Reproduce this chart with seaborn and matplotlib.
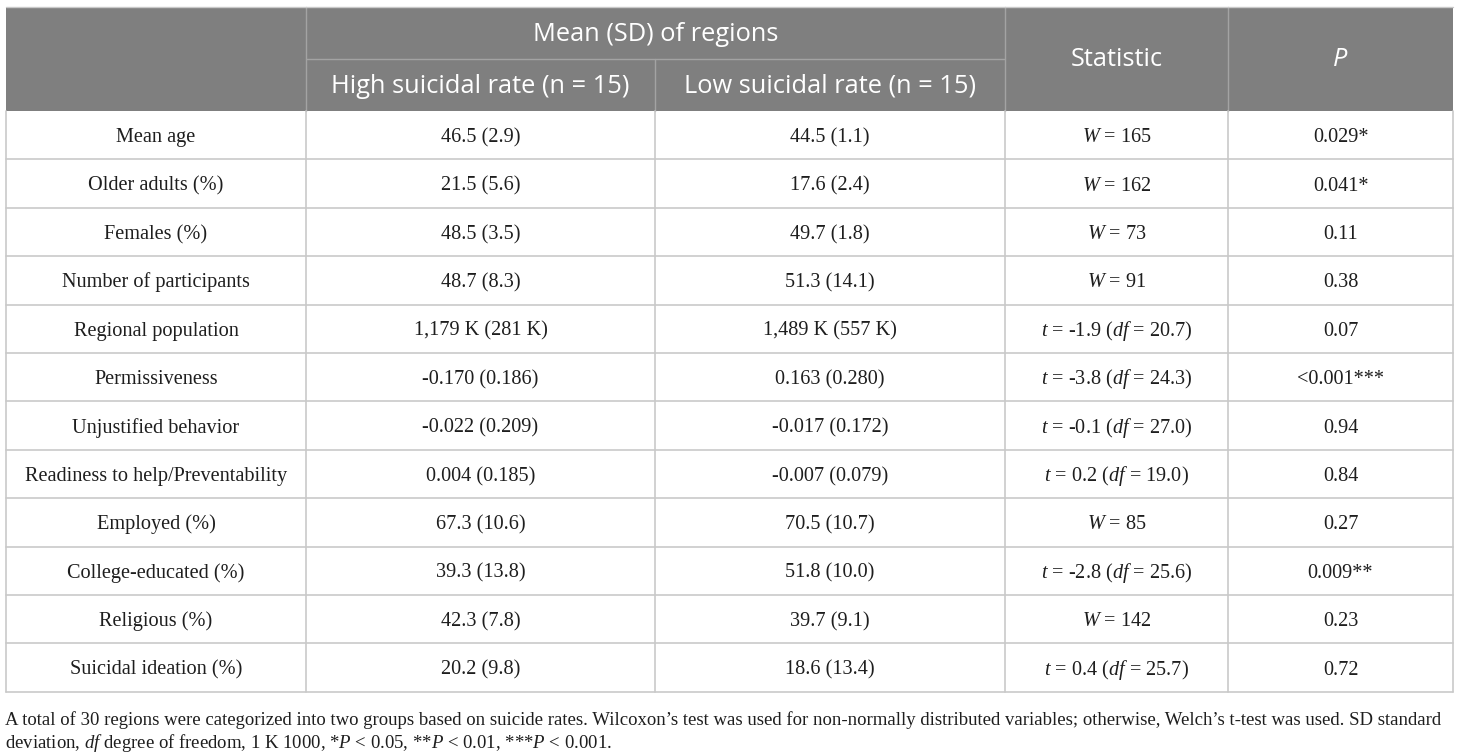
#!/usr/bin/env python3
"""
Regional comparison table: high vs low suicidal rate regions
"""

import matplotlib
matplotlib.use("Agg")
import matplotlib.pyplot as plt
import seaborn as sns

# ---- table content ----
variables = [
    "Mean age", "Older adults (%)", "Females (%)", "Number of participants",
    "Regional population", "Permissiveness", "Unjustified behavior",
    "Readiness to help/Preventability", "Employed (%)", "College-educated (%)",
    "Religious (%)", "Suicidal ideation (%)",
]
high_rate = [
    "46.5 (2.9)", "21.5 (5.6)", "48.5 (3.5)", "48.7 (8.3)", "1,179 K (281 K)",
    "-0.170 (0.186)", "-0.022 (0.209)", "0.004 (0.185)", "67.3 (10.6)",
    "39.3 (13.8)", "42.3 (7.8)", "20.2 (9.8)",
]
low_rate = [
    "44.5 (1.1)", "17.6 (2.4)", "49.7 (1.8)", "51.3 (14.1)", "1,489 K (557 K)",
    "0.163 (0.280)", "-0.017 (0.172)", "-0.007 (0.079)", "70.5 (10.7)",
    "51.8 (10.0)", "39.7 (9.1)", "18.6 (13.4)",
]
statistic = [
    "$W$ = 165", "$W$ = 162", "$W$ = 73", "$W$ = 91",
    "$t$ = -1.9 ($df$ = 20.7)", "$t$ = -3.8 ($df$ = 24.3)",
    "$t$ = -0.1 ($df$ = 27.0)", "$t$ = 0.2 ($df$ = 19.0)",
    "$W$ = 85", "$t$ = -2.8 ($df$ = 25.6)", "$W$ = 142",
    "$t$ = 0.4 ($df$ = 25.7)",
]
p_values = [
    "0.029*", "0.041*", "0.11", "0.38", "0.07", "<0.001***", "0.94", "0.84",
    "0.27", "0.009**", "0.23", "0.72",
]
group_header = "Mean (SD) of regions"
col_headers = ["High suicidal rate (n = 15)", "Low suicidal rate (n = 15)"]
footnote = [
    "A total of 30 regions were categorized into two groups based on suicide rates. "
    "Wilcoxon\u2019s test was used for non-normally distributed variables; otherwise, "
    "Welch\u2019s t-test was used. SD standard",
    "deviation, $df$ degree of freedom, 1 K 1000, *$P$ < 0.05, **$P$ < 0.01, ***$P$ < 0.001.",
]

# ---- style ----
sns.set_theme(style="white")
plt.rcParams['font.family'] = ['Liberation Serif', 'DejaVu Serif']
plt.rcParams['mathtext.fontset'] = 'custom'
plt.rcParams['mathtext.rm'] = 'Liberation Serif'
plt.rcParams['mathtext.it'] = 'Liberation Serif:italic'

HEAD_BG = "#7f7f7f"
HEAD_LINE = "#a3a3a3"
GRID = "#c9c9c9"
TEXT = "#1e1e1e"
SANS = ['Open Sans', 'DejaVu Sans']

# layout (pixels)
col_edges = [6, 306, 655, 1005, 1228, 1453]
top, head_mid, head_bot = 7, 59, 111
row_h = 48.4

fig = plt.figure(figsize=(14.6, 7.53), dpi=100)
ax = fig.add_axes([0, 0, 1, 1])
ax.set_xlim(0, 1460)
ax.set_ylim(753, 0)
ax.axis('off')

# header block
ax.add_patch(plt.Rectangle((col_edges[0], top), col_edges[-1] - col_edges[0],
                           head_bot - top, facecolor=HEAD_BG, edgecolor='none'))
ax.plot([col_edges[1], col_edges[3]], [head_mid, head_mid], color=HEAD_LINE, lw=1)
for x in col_edges[1:-1]:
    y0 = head_mid if x == col_edges[2] else top
    ax.plot([x, x], [y0, head_bot], color=HEAD_LINE, lw=1)
ax.plot([col_edges[0], col_edges[-1]], [top, top], color=GRID, lw=1)

hs = 18.3
ax.text((col_edges[1] + col_edges[3]) / 2, (top + head_mid) / 2 + 1, group_header,
        ha='center', va='center', color='white', fontsize=hs, family=SANS)
for i, lab in enumerate(col_headers):
    ax.text((col_edges[1 + i] + col_edges[2 + i]) / 2, (head_mid + head_bot) / 2 + 1, lab,
            ha='center', va='center', color='white', fontsize=hs, family=SANS)
ax.text((col_edges[3] + col_edges[4]) / 2, (top + head_bot) / 2, "Statistic",
        ha='center', va='center', color='white', fontsize=hs, family=SANS)
ax.text((col_edges[4] + col_edges[5]) / 2, (top + head_bot) / 2, "P",
        ha='center', va='center', color='white', fontsize=hs, family=SANS,
        fontstyle='italic')

# body
n = len(variables)
bottom = head_bot + n * row_h
for i in range(1, n + 1):
    y = head_bot + i * row_h
    ax.plot([col_edges[0], col_edges[-1]], [y, y], color=GRID, lw=1.2)
for x in col_edges:
    ax.plot([x, x], [head_bot, bottom], color=GRID, lw=1.2)

columns = [variables, high_rate, low_rate, statistic, p_values]
bs = 14.6
for c, values in enumerate(columns):
    xc = (col_edges[c] + col_edges[c + 1]) / 2
    for r, val in enumerate(values):
        yb = head_bot + (r + 0.5) * row_h + 7
        ax.text(xc, yb, val, ha='center', va='baseline', color=TEXT, fontsize=bs)

# footnote
for k, line in enumerate(footnote):
    ax.text(col_edges[0] - 1, bottom + 33 + k * 23, line, ha='left', va='baseline',
            color=TEXT, fontsize=13.5)

plt.savefig("out.png", dpi=100)
plt.close()
